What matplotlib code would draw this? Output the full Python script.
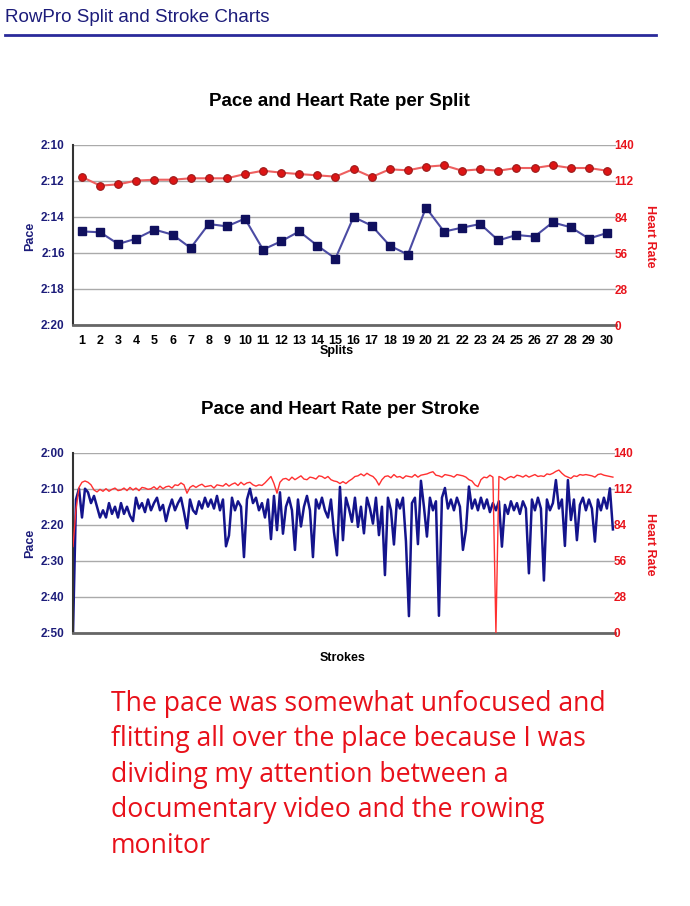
import matplotlib
matplotlib.use('Agg')
import matplotlib.pyplot as plt
from matplotlib.lines import Line2D
from matplotlib.ticker import FuncFormatter

plt.rcParams['font.family'] = ['Liberation Sans', 'DejaVu Sans']

# datos por split (ritmo en segundos / 500m, pulso en ppm)
splits = list(range(1, 31))
split_pace = [134.8, 134.85, 135.5, 135.2, 134.7, 134.98, 135.72, 134.39, 134.52, 134.09,
              135.81, 135.35, 134.8, 135.59, 136.31, 134.0, 134.48, 135.59, 136.09, 133.48,
              134.81, 134.59, 134.39, 135.3, 135.0, 135.09, 134.3, 134.57, 135.2, 134.89]
split_hr = [115.1, 108.4, 109.4, 112.3, 113.0, 113.0, 114.1, 114.1, 114.1, 117.4,
            120.0, 118.5, 117.4, 116.4, 115.4, 121.3, 115.1, 121.1, 120.3, 123.1,
            124.2, 120.0, 121.1, 120.0, 122.1, 122.1, 124.2, 122.1, 122.1, 120.0]

# datos por palada
stroke_pace = [
    170, 133, 130, 138, 130, 131, 134, 132, 135, 138,
    136, 138, 134, 137, 135, 138, 134, 137, 135, 137.5,
    139, 132.5, 135.5, 134, 136.5, 133, 136, 134, 132.5, 136,
    134.5, 139, 135.5, 133, 136, 134, 132.5, 136.5, 141, 133,
    136, 137, 133.5, 135.5, 132.5, 135, 133, 135.5, 132, 136,
    133, 146, 143, 132.5, 136, 133.5, 135, 149, 133, 130,
    134, 132.5, 136, 134, 138, 133, 144, 132, 141.5, 131,
    142.5, 135, 132.5, 136, 147, 133, 140.5, 135, 132, 136,
    149, 133, 135.5, 132.5, 136, 138, 133, 142, 148.5, 129.5,
    144.3, 132.5, 135.5, 139.2, 132.5, 140.6, 135, 142.4, 132.5, 135.5,
    139.7, 132.5, 142.9, 135, 154, 132.5, 136, 145.5, 133, 135.5,
    132.5, 144.6, 165.4, 134, 132.5, 145.4, 127.8, 135, 143.3, 132.5,
    136, 133.5, 165.3, 132.5, 129.8, 135.5, 133, 136, 132.5, 135,
    147, 141.5, 129.4, 135.5, 133, 136, 132.5, 135.5, 133, 136.5,
    134, 136, 133.5, 146.1, 134.5, 137, 133.5, 136, 134, 137,
    133.5, 135.5, 153.5, 133, 136, 132.5, 135.5, 155.5, 133, 136,
    134, 127.6, 135.5, 133, 145.9, 127.6, 138.7, 133, 144.3, 134.5,
    132.5, 136, 133, 135.5, 144.7, 133, 136, 132.5, 135.5, 129.9,
    141.3]
stroke_hr = [
    67, 96, 113, 117, 118, 117, 115, 111, 109.5, 111.5,
    110, 112, 110, 111.5, 112.5, 110.5, 111, 112.5, 110.5, 113,
    111, 112.5, 110.5, 113, 112.5, 111.5, 112, 113.5, 111.5, 114,
    112, 113.5, 114, 112.5, 115, 114.5, 116.5, 115, 108.5, 113,
    114.5, 113, 114.5, 115.5, 113.5, 114, 114.5, 112.5, 115, 114.5,
    114, 116, 114, 115.5, 116.5, 114.5, 117, 115, 116.5, 117,
    115, 114, 115, 114.5, 116.5, 119, 121.5, 116, 108.5, 117,
    119.5, 120, 118.5, 121, 119, 120.5, 122, 119.5, 119, 121,
    120.5, 119.5, 122, 121.5, 120, 121.5, 119, 118, 117.5, 116,
    117.5, 116, 118, 119.5, 121.5, 122, 123.5, 122, 124, 122.5,
    121.5, 119, 114.8, 119, 121.5, 122, 120.5, 123, 121, 121.5,
    120, 122, 121.5, 121, 123, 121, 122.5, 123, 123.5, 124.5,
    125.2, 122.5, 122, 121, 123, 122.5, 122, 121, 123, 122.5,
    122, 121, 119, 118, 115, 113.6, 119, 121, 120.5, 122.5,
    121, 0, 121.5, 120.5, 118.8, 120.5, 121.5, 120.5, 122.5, 122,
    121, 122.5, 121, 122, 123, 121.5, 122, 121.5, 123.5, 123,
    124, 125.5, 126.5, 124, 122, 121, 120, 122, 121.5, 123,
    122.5, 123, 122.5, 122, 121, 123, 123.5, 122.5, 122, 121.5,
    121]

split_pace_ticks = [130, 132, 134, 136, 138, 140]
stroke_pace_ticks = [120, 130, 140, 150, 160, 170]
hr_ticks = [0, 28, 56, 84, 112, 140]

note_lines = ['The pace was somewhat unfocused and',
              'flitting all over the place because I was',
              'dividing my attention between a',
              'documentary video and the rowing',
              'monitor']

NAVY = '#1c1c7a'
RED = '#e8141c'
W, H = 690, 906


def fmt_pace(v, pos):
    v = int(round(v))
    return f"{v // 60}:{v % 60:02d}"


def fx(x):
    return x / W


def fy(y):
    return 1 - y / H


def setup(ax, ax2, pace_ticks):
    ax.set_ylim(pace_ticks[-1], pace_ticks[0])
    ax.set_yticks(pace_ticks)
    ax.yaxis.set_major_formatter(FuncFormatter(fmt_pace))
    ax.grid(axis='y', color='#aaaaaa', lw=1)
    ax.set_axisbelow(True)
    ax.tick_params(axis='y', length=0, pad=6, labelcolor=NAVY, labelsize=8.5)
    for lab in ax.get_yticklabels():
        lab.set_fontweight('bold')
    for s in ['top', 'right']:
        ax.spines[s].set_visible(False)
    ax.spines['left'].set_color('#333333')
    ax.spines['left'].set_linewidth(1.5)
    ax.spines['bottom'].set_color('#666666')
    ax.spines['bottom'].set_linewidth(2)

    ax2.set_ylim(hr_ticks[0], hr_ticks[-1])
    ax2.set_yticks(hr_ticks)
    ax2.tick_params(axis='y', length=0, pad=-1, labelcolor=RED, labelsize=8.5)
    for lab in ax2.get_yticklabels():
        lab.set_fontweight('bold')
    for s in ax2.spines.values():
        s.set_visible(False)


fig = plt.figure(figsize=(W / 100, H / 100), dpi=100)

# cabecera
fig.text(fx(5), fy(17), 'RowPro Split and Stroke Charts', color=NAVY, fontsize=13.5,
         ha='left', va='center')
fig.add_artist(Line2D([fx(5), fx(656)], [fy(35), fy(35)], color='#2a2a9a', lw=2))

# grafico por split
ax = fig.add_axes([fx(73), fy(325), 543 / W, 180 / H])
ax2 = ax.twinx()
ax.plot(splits, split_pace, color='#4b4ba3', lw=1.5, marker='s', ms=5.5,
        mfc='#10105e', mec='#10105e', zorder=3)
ax2.plot(splits, split_hr, color='#ee6060', lw=1.5, marker='o', ms=5.5,
         mfc='#dd1515', mec='#9a1a1a', mew=0.8)
ax.set_xlim(0.5, 30.5)
ax.set_xticks(splits)
ax.tick_params(axis='x', length=0, pad=7, labelsize=9)
for lab in ax.get_xticklabels():
    lab.set_fontweight('bold')
setup(ax, ax2, split_pace_ticks)

fig.text(fx(339), fy(102), 'Pace and Heart Rate per Split', fontsize=13.5, fontweight='bold',
         ha='center', va='center')
fig.text(fx(337), fy(351), 'Splits', fontsize=9, fontweight='bold', ha='center', va='center')
fig.text(fx(30), fy(236), 'Pace', fontsize=9, fontweight='bold', color=NAVY,
         rotation=90, ha='center', va='center')
fig.text(fx(650), fy(236), 'Heart Rate', fontsize=9, fontweight='bold', color=RED,
         rotation=270, ha='center', va='center')

# grafico por palada
strokes = list(range(len(stroke_pace)))
bx = fig.add_axes([fx(73), fy(632.7), 542 / W, 180 / H])
bx2 = bx.twinx()
bx.plot(strokes, stroke_pace, color='#14148c', lw=1.8)
bx2.plot(strokes, stroke_hr, color='#ff3030', lw=1.0)
bx.set_xlim(0, len(stroke_pace) - 0.3)
bx.set_xticks([])
setup(bx, bx2, stroke_pace_ticks)

fig.text(fx(340), fy(410), 'Pace and Heart Rate per Stroke', fontsize=13.5, fontweight='bold',
         ha='center', va='center')
fig.text(fx(343), fy(658), 'Strokes', fontsize=9, fontweight='bold', ha='center', va='center')
fig.text(fx(30), fy(543), 'Pace', fontsize=9, fontweight='bold', color=NAVY,
         rotation=90, ha='center', va='center')
fig.text(fx(650), fy(544), 'Heart Rate', fontsize=9, fontweight='bold', color=RED,
         rotation=270, ha='center', va='center')

# nota
for k, line in enumerate(note_lines):
    fig.text(fx(111), fy(710.7 + 35.6 * k), line, color='#e8101a', fontsize=19.2,
             family=['Open Sans', 'DejaVu Sans'], ha='left', va='baseline')

fig.savefig('out.png', dpi=100)
